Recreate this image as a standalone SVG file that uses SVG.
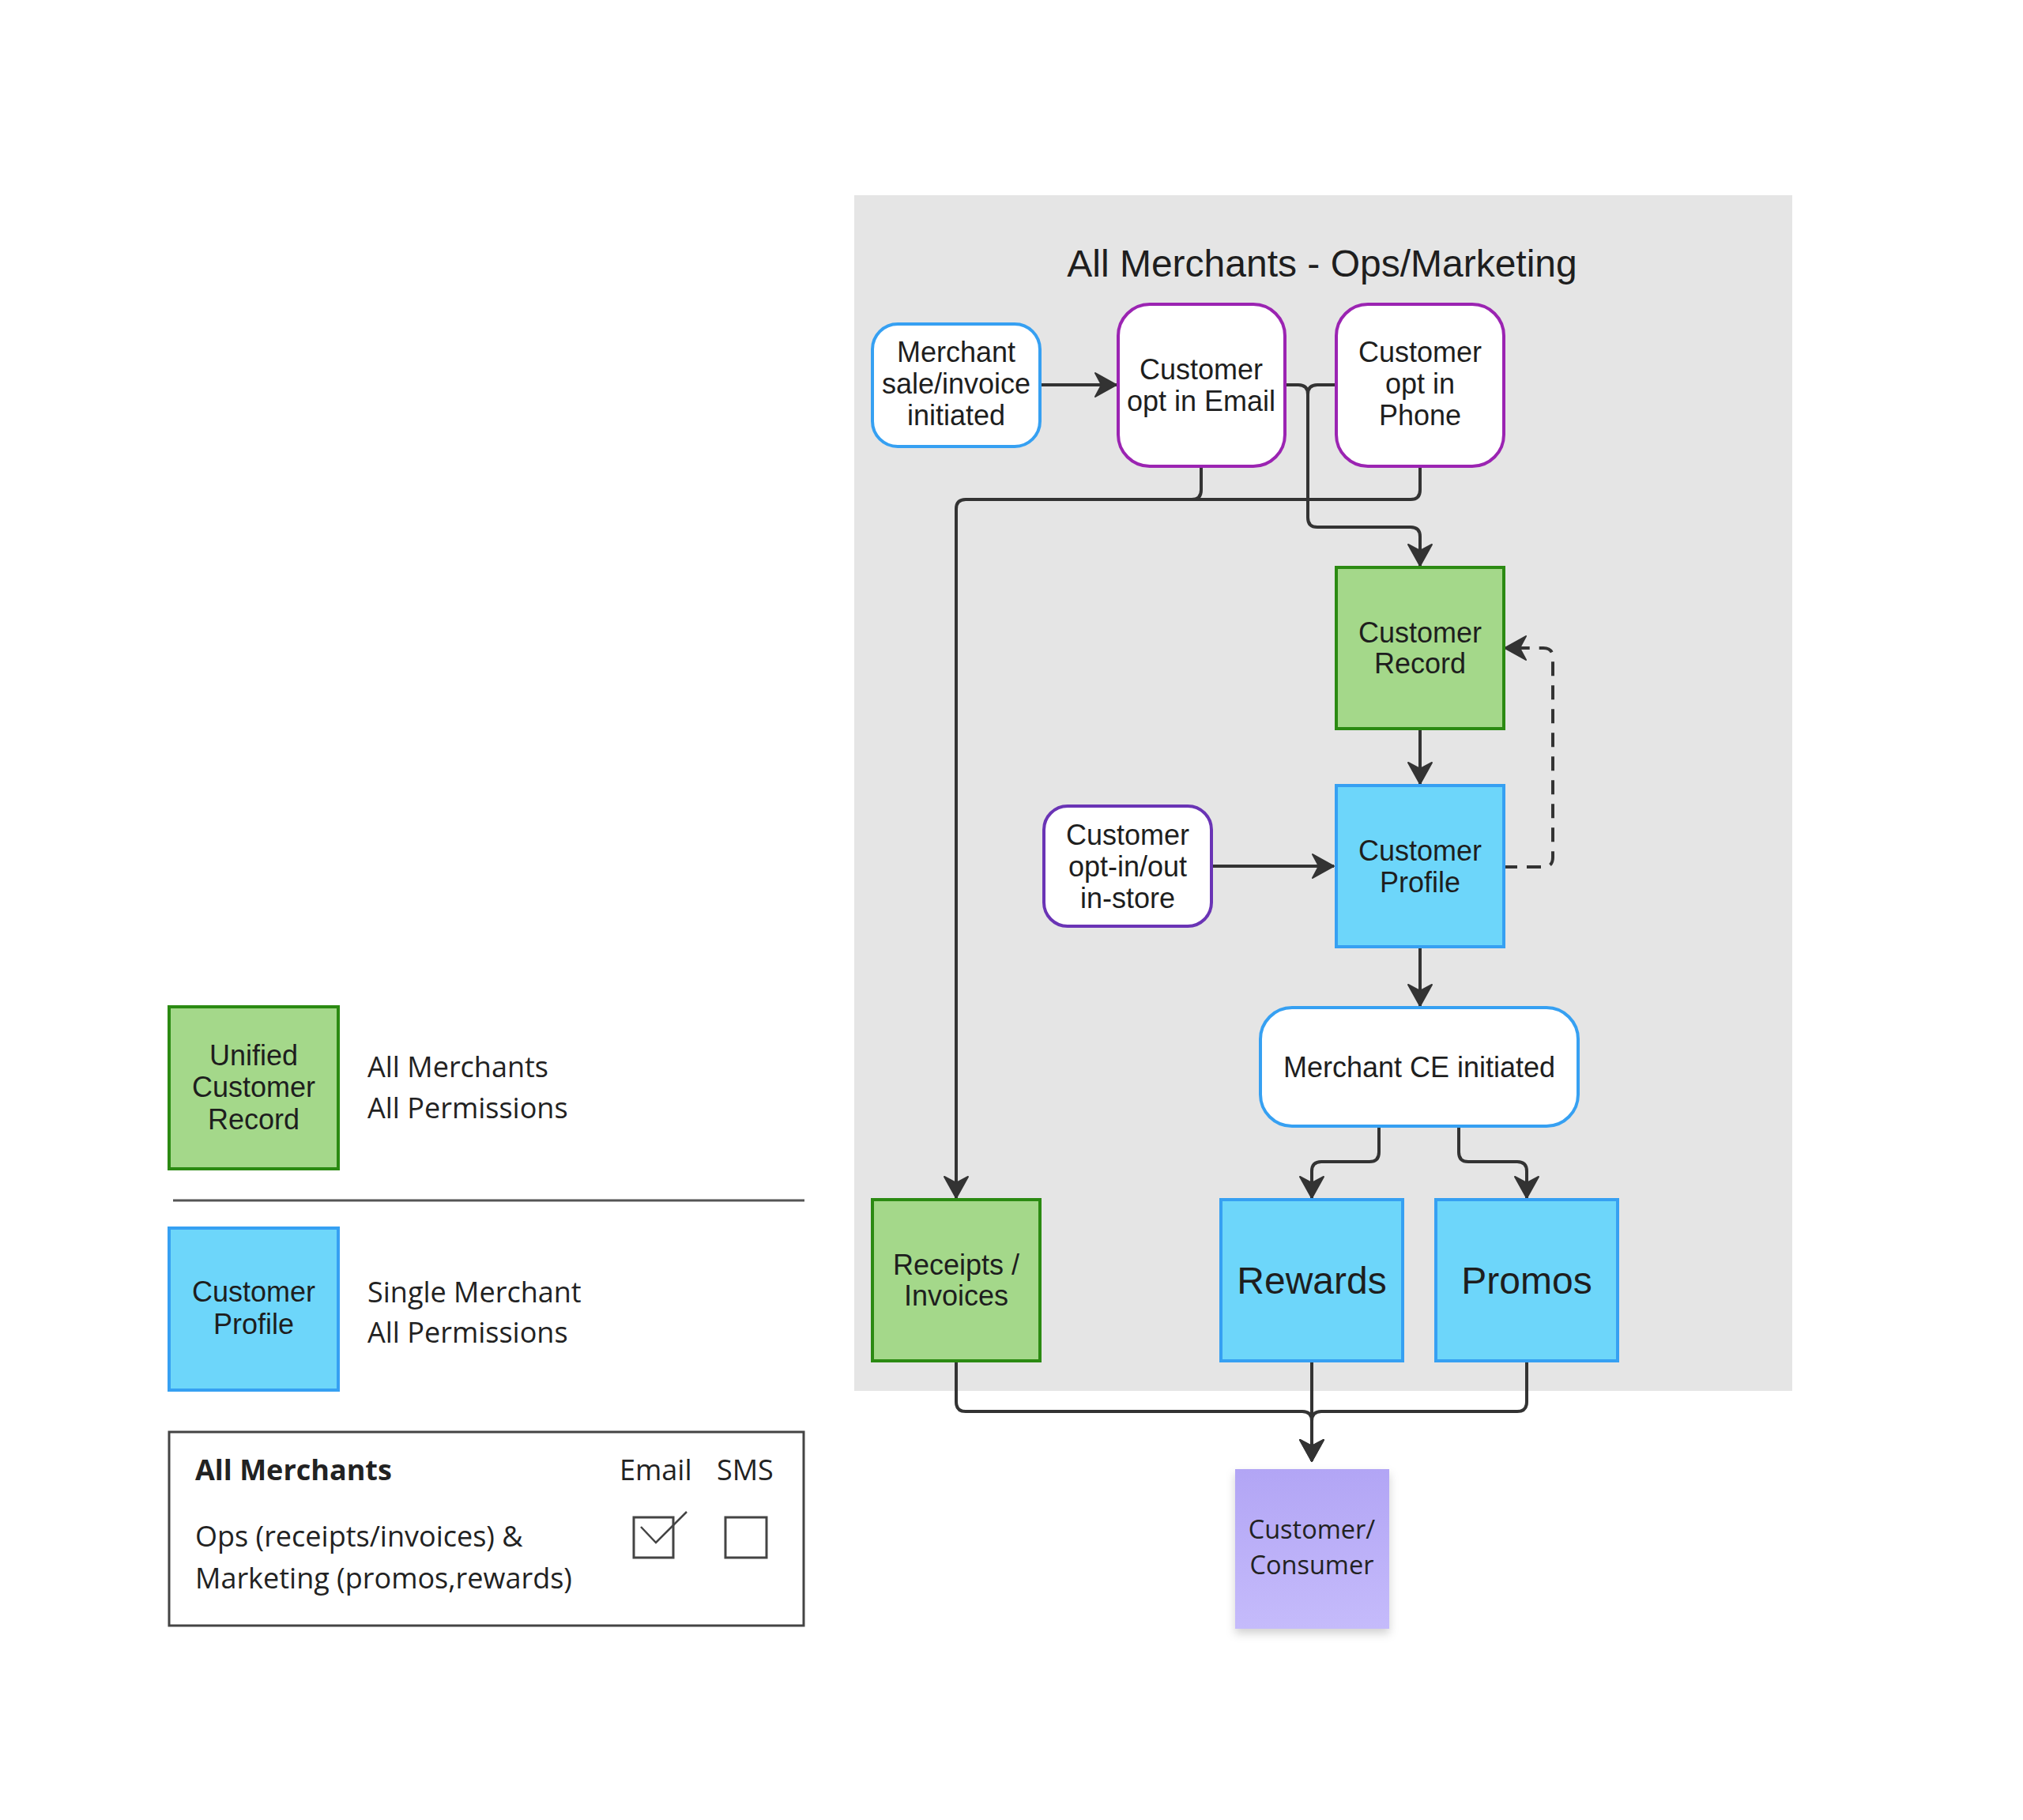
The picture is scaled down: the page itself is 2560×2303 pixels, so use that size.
<svg xmlns="http://www.w3.org/2000/svg" width="2560" height="2303" viewBox="0 0 2560 2303">
<style>
.n{font-family:"Liberation Sans",Arial,sans-serif;font-size:36px;fill:#1e1e1e;text-anchor:middle}
.big{font-size:48px}
.o{font-family:"Open Sans","Noto Sans",sans-serif;font-size:36px;fill:#222}
.c{fill:none;stroke:#333;stroke-width:4;stroke-linejoin:round}
.green{fill:#A4D88A;stroke:#2B8A12;stroke-width:4}
.blue{fill:#6DD6FA;stroke:#36A0F2;stroke-width:4}
.wb{fill:#fff;stroke:#36A0F2;stroke-width:4}
.wp{fill:#fff;stroke:#9B24B2;stroke-width:4}
.wv{fill:#fff;stroke:#6A34B5;stroke-width:4}
</style>
<defs>
<marker id="ar" markerUnits="userSpaceOnUse" markerWidth="40" markerHeight="40" viewBox="-30 -20 40 40" refX="0" refY="0" orient="auto">
<path d="M0,0 L-27,-15 L-19,0 L-27,15 Z" fill="#333" stroke="#333" stroke-width="2" stroke-linejoin="round"/>
</marker>
<linearGradient id="pg" x1="0" y1="0" x2="0" y2="1">
<stop offset="0" stop-color="#B2A5F5"/>
<stop offset="1" stop-color="#C5BBFB"/>
</linearGradient>
<filter id="sh" x="-20%" y="-20%" width="140%" height="140%">
<feDropShadow dx="0" dy="6" stdDeviation="6" flood-color="#000" flood-opacity="0.18"/>
</filter>
</defs>
<rect width="2560" height="2303" fill="#fff"/>
<rect x="1081" y="247" width="1187" height="1513" fill="#E5E5E5"/>
<text x="1673" y="350" class="n big" style="font-size:48px">All Merchants - Ops/Marketing</text>

<g id="connectors">
<path class="c" d="M1316,487 H1413" marker-end="url(#ar)"/>
<path class="c" d="M1520,590 V620 Q1520,632 1508,632 H1222 Q1210,632 1210,644 V1516" marker-end="url(#ar)"/>
<path class="c" d="M1797,590 V620 Q1797,632 1785,632 H1222"/>
<path class="c" d="M1626,487 H1643 Q1655,487 1655,499 V655 Q1655,667 1667,667 H1785 Q1797,667 1797,679 V716" marker-end="url(#ar)"/>
<path class="c" d="M1691,487 H1667 Q1655,487 1655,499"/>
<path class="c" d="M1797,922 V992" marker-end="url(#ar)"/>
<path class="c" d="M1533,1096 H1688" marker-end="url(#ar)"/>
<path class="c" d="M1902,1097 H1953 Q1965,1097 1965,1085 V832 Q1965,820 1953,820 H1904" stroke-dasharray="18,12" marker-end="url(#ar)"/>
<path class="c" d="M1797,1198 V1273" marker-end="url(#ar)"/>
<path class="c" d="M1745,1425 V1458 Q1745,1470 1733,1470 H1672 Q1660,1470 1660,1482 V1516" marker-end="url(#ar)"/>
<path class="c" d="M1846,1425 V1458 Q1846,1470 1858,1470 H1920 Q1932,1470 1932,1482 V1516" marker-end="url(#ar)"/>
<path class="c" d="M1210,1722 V1774 Q1210,1786 1222,1786 H1648 Q1660,1786 1660,1798 V1849" marker-end="url(#ar)"/>
<path class="c" d="M1660,1722 V1849" marker-end="url(#ar)"/>
<path class="c" d="M1932,1722 V1774 Q1932,1786 1920,1786 H1672 Q1660,1786 1660,1798"/>
</g>

<g id="merchant-sale">
<rect class="wb" x="1104" y="410" width="212" height="155" rx="32"/>
<text class="n" x="1210" y="458">Merchant</text>
<text class="n" x="1210" y="498">sale/invoice</text>
<text class="n" x="1210" y="538">initiated</text>
</g>
<g id="opt-in-email">
<rect class="wp" x="1415" y="385" width="211" height="205" rx="40"/>
<text class="n" x="1520" y="480">Customer</text>
<text class="n" x="1520" y="520">opt in Email</text>
</g>
<g id="opt-in-phone">
<rect class="wp" x="1691" y="385" width="212" height="205" rx="40"/>
<text class="n" x="1797" y="458">Customer</text>
<text class="n" x="1797" y="498">opt in</text>
<text class="n" x="1797" y="538">Phone</text>
</g>
<g id="customer-record">
<rect class="green" x="1691" y="718" width="212" height="204"/>
<text class="n" x="1797" y="813">Customer</text>
<text class="n" x="1797" y="852">Record</text>
</g>
<g id="customer-profile">
<rect class="blue" x="1691" y="994" width="212" height="204"/>
<text class="n" x="1797" y="1089">Customer</text>
<text class="n" x="1797" y="1129">Profile</text>
</g>
<g id="opt-in-store">
<rect class="wv" x="1321" y="1020" width="212" height="152" rx="30"/>
<text class="n" x="1427" y="1069">Customer</text>
<text class="n" x="1427" y="1109">opt-in/out</text>
<text class="n" x="1427" y="1149">in-store</text>
</g>
<g id="merchant-ce">
<rect class="wb" x="1595" y="1275" width="402" height="150" rx="40"/>
<text class="n" x="1796" y="1363">Merchant CE initiated</text>
</g>
<g id="receipts">
<rect class="green" x="1104" y="1518" width="212" height="204"/>
<text class="n" x="1210" y="1613">Receipts /</text>
<text class="n" x="1210" y="1652">Invoices</text>
</g>
<g id="rewards">
<rect class="blue" x="1545" y="1518" width="230" height="204"/>
<text class="n big" x="1660" y="1637">Rewards</text>
</g>
<g id="promos">
<rect class="blue" x="1817" y="1518" width="230" height="204"/>
<text class="n big" x="1932" y="1637">Promos</text>
</g>
<g id="consumer">
<rect x="1563" y="1859" width="195" height="202" fill="url(#pg)" filter="url(#sh)"/>
<text class="o" x="1660" y="1947" style="font-size:32.5px;text-anchor:middle">Customer/</text>
<text class="o" x="1660" y="1992" style="font-size:32.5px;text-anchor:middle">Consumer</text>
</g>

<g id="legend-record">
<rect class="green" x="214" y="1274" width="214" height="205"/>
<text class="n" x="321" y="1348">Unified</text>
<text class="n" x="321" y="1388">Customer</text>
<text class="n" x="321" y="1429">Record</text>
<text class="o" x="465" y="1363">All Merchants</text>
<text class="o" x="465" y="1415">All Permissions</text>
</g>
<line x1="219" y1="1519" x2="1018" y2="1519" stroke="#555" stroke-width="3"/>
<g id="legend-profile">
<rect class="blue" x="214" y="1554" width="214" height="205"/>
<text class="n" x="321" y="1647">Customer</text>
<text class="n" x="321" y="1688">Profile</text>
<text class="o" x="465" y="1648">Single Merchant</text>
<text class="o" x="465" y="1699">All Permissions</text>
</g>
<g id="legend-permissions">
<rect x="214" y="1812" width="803" height="245" fill="#fff" stroke="#444" stroke-width="3"/>
<text class="o" x="247" y="1873" style="font-weight:bold">All Merchants</text>
<text class="o" x="784" y="1873">Email</text>
<text class="o" x="907" y="1873">SMS</text>
<text class="o" x="247" y="1957">Ops (receipts/invoices) &amp;</text>
<text class="o" x="247" y="2010">Marketing (promos,rewards)</text>
<rect x="802" y="1920" width="50" height="51" fill="none" stroke="#444" stroke-width="3"/>
<path d="M811,1932 L830,1952 L869,1913" fill="none" stroke="#444" stroke-width="2.5"/>
<rect x="918" y="1920" width="52" height="51" fill="none" stroke="#444" stroke-width="3"/>
</g>
</svg>
